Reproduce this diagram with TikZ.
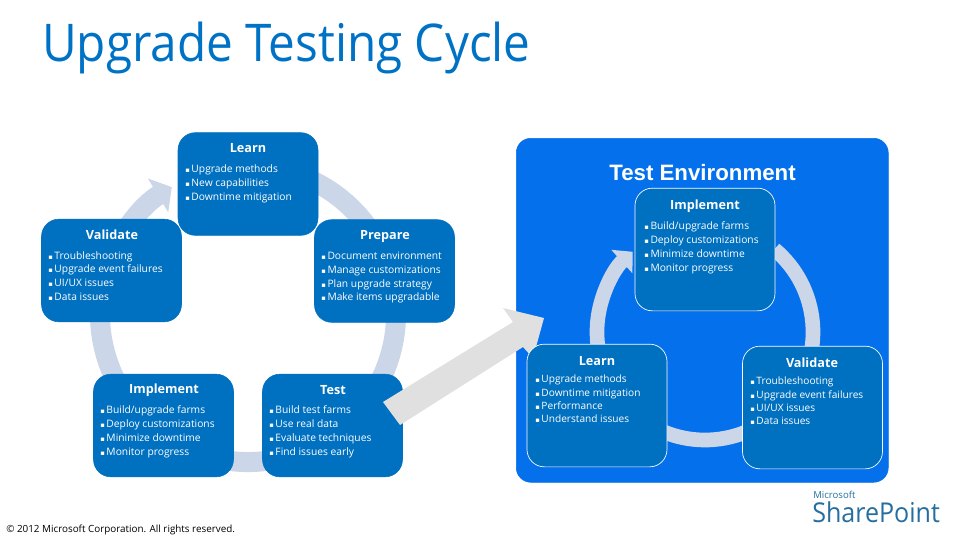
\documentclass[tikz,border=0pt]{standalone}
\usepackage{fontspec}
\setmainfont{Open Sans}
\newfontfamily\headfont{Liberation Sans}
\newfontfamily\markfont{DejaVu Sans}
\newfontfamily\titlefont[FakeStretch=0.917]{Open Sans}
\usetikzlibrary{arrows.meta,positioning}
\definecolor{stageblue}{RGB}{0,112,192}
\definecolor{panelblue}{RGB}{5,112,236}
\definecolor{ringblue}{RGB}{203,214,233}
\definecolor{movegrey}{RGB}{224,224,224}
\definecolor{titleblue}{RGB}{0,114,198}
\definecolor{logoblue}{RGB}{38,110,160}
\newcommand{\itm}{{\markfont\fontsize{5}{5}\selectfont ▪}\,}
\begin{document}
\begin{tikzpicture}[x=0.75pt,y=-0.75pt,
 stage/.style={draw=stageblue,fill=stageblue,rounded corners=13pt,minimum width=105pt,minimum height=77pt,inner sep=0pt},
 ringed/.style={stage,draw=white,line width=0.5pt},
 head/.style={text=white,font=\bfseries\fontsize{9.5}{11}\selectfont,anchor=center},
 items/.style={text=white,font=\fontsize{7.7}{10.4}\selectfont,align=left,anchor=north west,inner sep=0pt},
 itemstight/.style={items,font=\fontsize{7.6}{9.8}\selectfont},
 ring/.style={draw=ringblue,line width=15pt,-{Triangle[length=12pt,width=29pt]}},
 ringsmall/.style={draw=ringblue,line width=11pt,-{Triangle[length=11pt,width=23pt]}}]
\useasboundingbox (0,0) rectangle (960,540);
\node[text=titleblue,font=\titlefont\fontsize{39}{44}\selectfont,anchor=west,inner sep=0pt] (title) at (42,48) {Upgrade Testing Cycle};
\node[draw=panelblue,fill=panelblue,rounded corners=11pt,minimum width=279pt,minimum height=258pt,inner sep=0pt,anchor=north west] (panel) at (516,138) {};
% rings sit behind the boxes
\draw[ring] (248,314) ++(-70:148) arc[start angle=-70,end angle=239,radius=148];
\draw[ringsmall] (705,332) ++(-50:108) arc[start angle=-50,end angle=228,radius=108];
\node[stage] (learn) at (248,184) {};
\node[stage] (validate) at (111.5,270.5) {};
\node[stage] (prepare) at (384.5,271) {};
\node[stage] (implement) at (163.5,425.5) {};
\node[stage] (test) at (332.5,425.5) {};
\fill[movegrey] (383,402) -- (513,322) -- (503,308) -- (544,318) -- (533,358) -- (523,347) -- (400,425) -- cycle;
\node[ringed,minimum height=92pt] (impltwo) at (705,249.5) {};
\node[ringed,minimum height=92pt] (learntwo) at (597,405.5) {};
\node[ringed,minimum height=92pt] (validtwo) at (812.5,407.5) {};
\node[text=white,font=\headfont\bfseries\fontsize{16.7}{18}\selectfont,inner sep=0pt] (envtitle) at (702.5,173) {Test Environment};
% left cycle
\node[head] (learnhead) at (248,148) {Learn};
\node[items] (learnitems) at (185,164.5) {\itm Upgrade methods\\\itm New capabilities\\\itm Downtime mitigation};
\node[head] (validatehead) at (112,235) {Validate};
\node[items] (validateitems) at (48,251) {\itm Troubleshooting\\\itm Upgrade event failures\\\itm UI/UX issues\\\itm Data issues};
\node[head] (preparehead) at (385,236) {Prepare};
\node[items] (prepareitems) at (321,251.5) {\itm Document environment\\\itm Manage customizations\\\itm Plan upgrade strategy\\\itm Make items upgradable};
\node[head] (implementhead) at (164,390) {Implement};
\node[items] (implementitems) at (100,405.5) {\itm Build/upgrade farms\\\itm Deploy customizations\\\itm Minimize downtime\\\itm Monitor progress};
\node[head] (testhead) at (333,390) {Test};
\node[items] (testitems) at (269,405.5) {\itm Build test farms\\\itm Use real data\\\itm Evaluate techniques\\\itm Find issues early};
% right cycle
\node[head] (impltwohead) at (705,206) {Implement};
\node[items] (impltwoitems) at (644,221.5) {\itm Build/upgrade farms\\\itm Deploy customizations\\\itm Minimize downtime\\\itm Monitor progress};
\node[head] (learntwohead) at (597,361) {Learn};
\node[itemstight] (learntwoitems) at (535,375) {\itm Upgrade methods\\\itm Downtime mitigation\\\itm Performance\\\itm Understand issues};
\node[head] (validtwohead) at (812,363) {Validate};
\node[itemstight] (validtwoitems) at (750,377) {\itm Troubleshooting\\\itm Upgrade event failures\\\itm UI/UX issues\\\itm Data issues};
\node[font=\fontsize{7.4}{9}\selectfont,anchor=west,inner sep=0pt] (copyright) at (6,530) {© 2012 Microsoft Corporation. All rights reserved.};
\node[text=logoblue,font=\titlefont\fontsize{20.5}{24}\selectfont,anchor=west,inner sep=0pt] (sharepoint) at (812,512) {SharePoint};
\node[text=logoblue,font=\fontsize{7.2}{8}\selectfont,anchor=west,inner sep=0pt] (microsoft) at (813,495) {Microsoft};
\end{tikzpicture}
\end{document}
